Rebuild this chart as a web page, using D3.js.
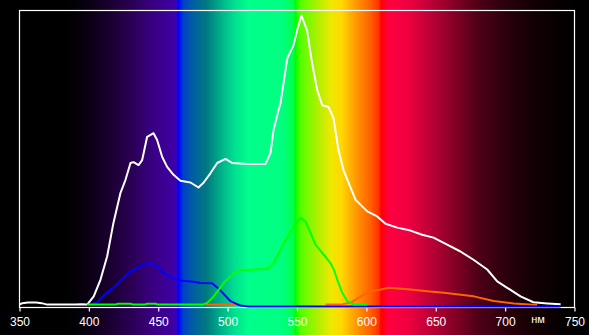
<!DOCTYPE html>
<html>
<head>
<meta charset="utf-8">
<script src="https://cdn.jsdelivr.net/npm/d3@7"></script>
<style>
  html, body { margin: 0; padding: 0; background: #000; }
  svg { display: block; }
</style>
</head>
<body>
<svg id="chart" width="589" height="335"></svg>
<script>
// tick labels along the wavelength axis
var ticks = [350, 400, 450, 500, 550, 600, 650, 700, 750];
var unitLabel = "нм";

// spectrum backdrop: wavelength -> colour
var specNm = [350, 385, 400, 415, 430, 445, 460, 463, 464.5, 468, 475, 485, 495, 505, 515, 540, 547, 549, 552, 565, 575, 582, 592, 603, 609, 610.5, 616, 630, 645, 660, 680, 700, 720, 740, 750];
var specColor = ["#000000", "#000000", "#0a0012", "#1a0030", "#2a0052", "#38007f", "#3f00a0", "#3a00b8", "#0000ff", "#0040c8", "#005fa0", "#007a80", "#00b088", "#00e090", "#00ff8c", "#00ff80", "#00ff50", "#00ff00", "#50ff00", "#b0f000", "#f0e800", "#ffd800", "#ff9c00", "#ff6000", "#ff3000", "#ff0000", "#ff0040", "#f00040", "#c00038", "#900028", "#500018", "#2c000c", "#140004", "#050000", "#000000"];

// white: total spectrum
var whiteNm = [350, 352, 356, 362, 366, 370, 390, 395, 398.8, 403.5, 408.4, 413.2, 417.7, 422.8, 426.4, 430, 432.2, 435.8, 438.4, 442, 446.6, 449.2, 452.8, 456.4, 461, 466, 473.2, 479, 482.6, 487.7, 492.5, 498.5, 503.3, 514.1, 527.3, 530.9, 533.1, 536.7, 538.1, 543, 547.5, 550.1, 553.2, 557.3, 560.9, 564.6, 568.2, 572.7, 576.3, 579.9, 583.5, 592.2, 600.6, 607.8, 613.8, 622.2, 631.8, 640.2, 648.4, 658.2, 667.8, 677.2, 687.1, 694.3, 701.5, 711.1, 720.4, 730.3, 740];
var whiteVal = [0.3, 0.8, 1, 1, 0.8, 0.3, 0.3, 0.4, 0.3, 3.1, 8.8, 16.7, 28, 38.2, 42.6, 48.3, 48.6, 47.6, 49.3, 57.2, 58.4, 56.1, 50.4, 47, 44.3, 42.3, 41.7, 40, 41.6, 44.9, 48.3, 49.7, 48.3, 48, 48, 51.7, 59.5, 66.2, 68.6, 83.8, 88.2, 93.2, 98.3, 93.2, 82.1, 73, 67.9, 67.3, 63.5, 52.7, 45.9, 35.8, 31.9, 30.2, 27.7, 26.4, 25.4, 24, 23, 20.6, 18.3, 15.5, 12.2, 8.2, 6, 3.1, 1.1, 0.7, 0.4];

// blue channel
var blueNm = [398.8, 406, 413.2, 418, 425.2, 430, 436, 442, 445.6, 449.2, 454, 461.2, 466, 475.6, 480.4, 488.9, 494.9, 502.1, 509.3, 515, 740];
var blueVal = [0.3, 1.5, 4.8, 6.5, 9.9, 11.9, 13.3, 14.6, 14.6, 13.5, 11.3, 9.4, 8.8, 8.4, 8, 7.9, 5.4, 1.8, 0.3, 0, 0];

// green channel
var greenNm = [398.8, 419, 421, 430, 432, 440, 442, 448, 450, 482, 485.3, 490, 497.3, 504.5, 509.3, 518.9, 528.5, 533.3, 540.5, 547.7, 552.5, 556.1, 559.7, 563.3, 569.3, 574.1, 576.5, 579, 582.6, 586.2, 591, 600.6];
var greenVal = [0.3, 0.3, 0.6, 0.6, 0.3, 0.3, 0.6, 0.6, 0.3, 0.3, 0.9, 3.1, 7.7, 11, 11.9, 12.2, 12.4, 14.4, 21.2, 26.8, 29.8, 28.5, 24.6, 20.6, 17.2, 14.4, 12.2, 8.8, 4.3, 1.5, 0.3, 0.3];

// red channel (null = no reading)
var redNm = [484, 509, 540, 570.5, 581.3, 588.6, 595.8, 603, 610.2, 616.2, 631.8, 643.8, 655.8, 666.6, 677.4, 691.8, 706.3, 723];
var redVal = [0.3, 0.3, null, 0.3, 0.3, 0.9, 3.1, 4.8, 5.4, 6, 5.4, 4.8, 4.3, 3.7, 3.1, 1.5, 0.7, 0.2];

var svg = d3.select("#chart"),
    width = +svg.attr("width"),
    height = +svg.attr("height");

var x = d3.scaleLinear().domain([350, 750]).range([19.5, 574.5]);
var y = d3.scaleLinear().domain([0, 100]).range([305.5, 10.5]);

// gradient backdrop
var grad = svg.append("defs").append("linearGradient")
    .attr("id", "spec")
    .attr("gradientUnits", "userSpaceOnUse")
    .attr("x1", x(350)).attr("x2", x(750))
    .attr("y1", 0).attr("y2", 0);

grad.selectAll("stop")
  .data(specNm)
  .enter().append("stop")
    .attr("offset", function(d) { return (d - 350) / 400; })
    .attr("stop-color", function(d, i) { return specColor[i]; });

svg.append("rect")
    .attr("x", x(350)).attr("y", 0)
    .attr("width", x(750) - x(350)).attr("height", height)
    .attr("fill", "url(#spec)");

// frame
svg.append("rect")
    .attr("x", x(350)).attr("y", 10.5)
    .attr("width", x(750) - x(350)).attr("height", 297)
    .attr("fill", "none")
    .attr("stroke", "#fff")
    .attr("stroke-width", 1.2);

// axis
var axis = d3.axisBottom(x)
    .tickValues(ticks)
    .tickSize(4)
    .tickPadding(6)
    .tickFormat(d3.format("d"));

var ax = svg.append("g")
    .attr("transform", "translate(0,307.5)")
    .call(axis);

ax.select(".domain").remove();
ax.selectAll("line").attr("stroke", "#fff").attr("stroke-width", 1.2);
ax.selectAll("text")
    .attr("fill", "#fff")
    .style("font-family", "'Liberation Sans', Arial, sans-serif")
    .style("font-size", "12px");

svg.append("text")
    .attr("x", 538)
    .attr("y", 322.5)
    .attr("text-anchor", "middle")
    .attr("fill", "#fff")
    .style("font-family", "'Liberation Sans', Arial, sans-serif")
    .style("font-size", "11px")
    .text(unitLabel);

// curves
var line = d3.line()
    .defined(function(d) { return d[1] != null; })
    .x(function(d) { return x(d[0]); })
    .y(function(d) { return y(d[1]); });

function zip(a, b) { return a.map(function(v, i) { return [v, b[i]]; }); }

var series = [
  {nm: whiteNm, val: whiteVal, color: "#ffffff", dy: 0},
  {nm: redNm, val: redVal, color: "#ff6400", dy: 0},
  {nm: blueNm, val: blueVal, color: "#0000ff", dy: 1},
  {nm: greenNm, val: greenVal, color: "#00ff00", dy: 0}
];

series.forEach(function(s) {
  svg.append("path")
      .attr("d", line(zip(s.nm, s.val)))
      .attr("transform", "translate(0," + s.dy + ")")
      .attr("fill", "none")
      .attr("stroke", s.color)
      .attr("stroke-width", 2)
      .attr("stroke-linejoin", "round");
});
</script>
</body>
</html>
